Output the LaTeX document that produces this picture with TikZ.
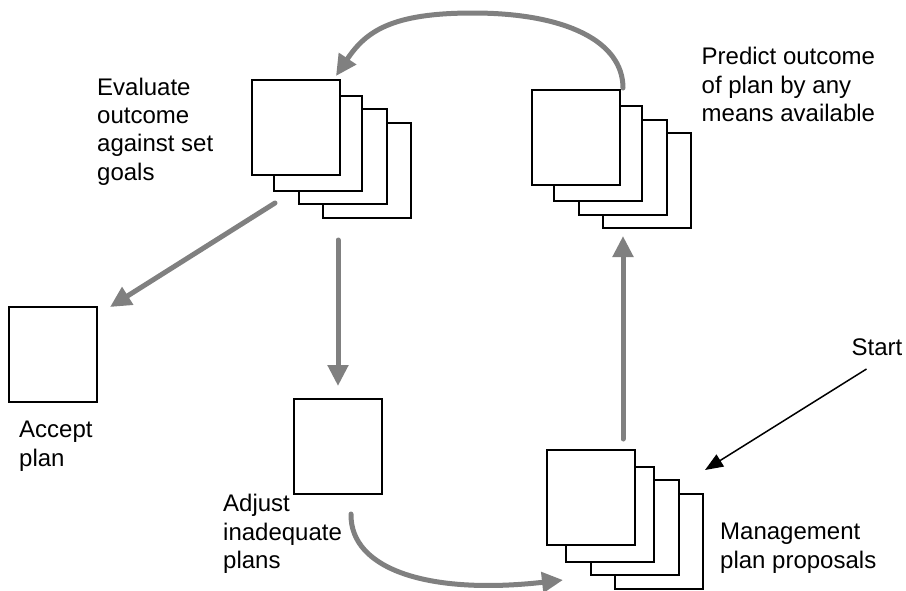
\documentclass[tikz,border=0pt]{standalone}
\usepackage{fontspec}
\setmainfont{Liberation Sans}
\usetikzlibrary{arrows.meta,calc}
\definecolor{arrowgray}{RGB}{128,128,128}
\begin{document}
\begin{tikzpicture}[x=1pt,y=-1pt,
  sheet/.style={draw=black,fill=white,line width=1.2pt,minimum width=88pt,minimum height=95pt,inner sep=0pt,outer sep=0pt,anchor=north west},
  lbl/.style={font=\fontsize{24}{28.3}\selectfont,align=left,inner sep=0pt,anchor=base west},
  flowarrow/.style={draw=arrowgray,line width=5pt,line cap=round,-{Triangle[length=21pt,width=20pt]}},
  startarrow/.style={draw=black,line width=1.5pt,-{Triangle[length=18pt,width=14pt]}}
]
\useasboundingbox (0,0) rectangle (906,590);

% stacks of sheets
\foreach \i/\dx/\dy in {4/71/43,3/47/29,2/22/16,1/0/0}
  \node[sheet] (tl\i) at (252+\dx,80+\dy) {};
\foreach \i/\dx/\dy in {4/71/43,3/47/30,2/22/16,1/0/0}
  \node[sheet] (tr\i) at (532+\dx,90+\dy) {};
\foreach \i/\dx/\dy in {4/68/44,3/44/30,2/19/17,1/0/0}
  \node[sheet] (br\i) at (547+\dx,450+\dy) {};

% single sheets
\node[sheet] (acc) at (9,307) {};
\node[sheet] (adj) at (294,399) {};

% labels (anchor = baseline of the last line)
\node[lbl] (evaltxt) at (97,180) {Evaluate\\outcome\\against set\\goals};
\node[lbl] (predtxt) at (701.5,121.5) {Predict outcome\\of plan by any\\means available};
\node[lbl] (acctxt) at (19,466) {Accept\\plan};
\node[lbl] (adjtxt) at (223,568.5) {Adjust\\inadequate\\plans};
\node[lbl] (mgmttxt) at (720,568) {Management\\plan proposals};
\node[lbl] (starttxt) at (851.5,355) {Start};

% connectors
\draw[flowarrow] ($(tr1.north east)+(3,-2)$) .. controls (623,41.5) and (566,13) .. (473,13)
  .. controls (392,13) and (366,31) .. ($(tl1.north east)+(-4,-4)$);
\draw[flowarrow] ($(tl1.south west)+(23,28)$) -- ($(acc.north east)+(13,0)$);
\draw[flowarrow] ($(tl1.south east)+(-2,65)$) -- ($(adj.north)+(0,-13)$);
\draw[flowarrow] ($(br1.north east)+(-12,-11)$) -- ($(tr4.south west)+(20,8)$);
\draw[flowarrow] ($(adj.south west)+(57,20)$) .. controls (350,570) and (430,595) .. ($(br1.south west)+(16,35)$);
\coordinate (starttail) at ($(starttxt.base west)+(15,14)$);
\draw[startarrow] (starttail) -- ($(br4.north east)+(2,-24)$);
\end{tikzpicture}
\end{document}
